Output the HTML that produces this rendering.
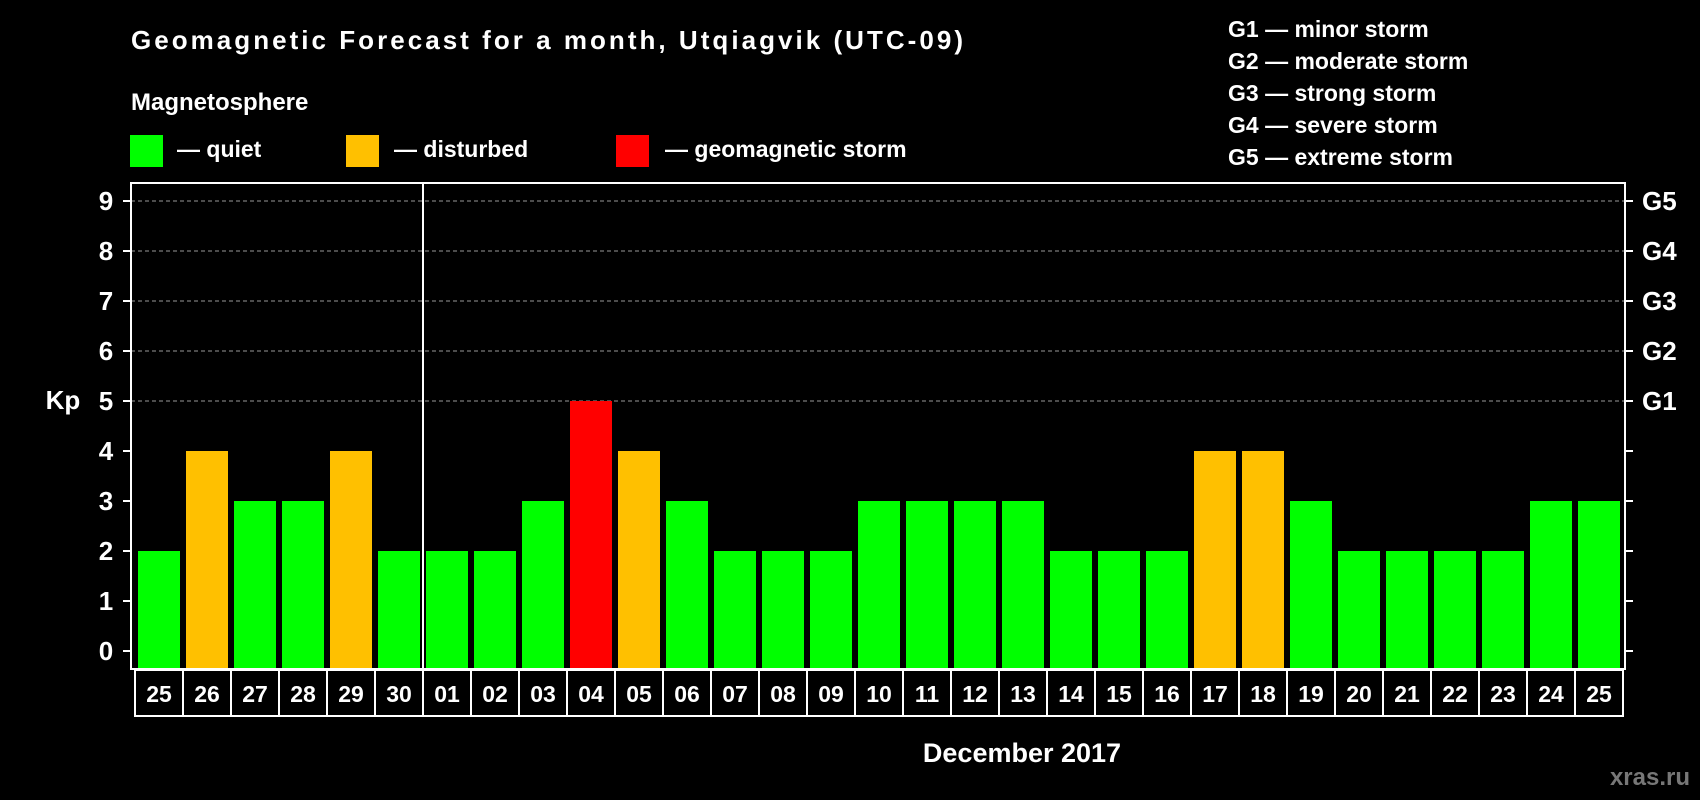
<!DOCTYPE html>
<html><head><meta charset="utf-8"><style>
html,body{margin:0;padding:0;background:#000;}
svg{display:block;font-family:"Liberation Sans",sans-serif;font-weight:bold;}
</style></head><body>
<svg id="chart" width="1700" height="800" viewBox="0 0 1700 800">
<text x="131" y="49" fill="#fff" font-size="26" textLength="832">Geomagnetic Forecast for a month, Utqiagvik (UTC-09)</text>
<text x="131" y="110" fill="#fff" font-size="24">Magnetosphere</text>
<g><rect x="130" y="135" width="33" height="32" fill="#00ff00"/><text x="177" y="157" fill="#fff" font-size="23">— quiet</text></g>
<g><rect x="346" y="135" width="33" height="32" fill="#ffc000"/><text x="394" y="157" fill="#fff" font-size="23">— disturbed</text></g>
<g><rect x="616" y="135" width="33" height="32" fill="#ff0000"/><text x="665" y="157" fill="#fff" font-size="23">— geomagnetic storm</text></g>
<g fill="#fff" font-size="23">
<text x="1228" y="37">G1 — minor storm</text>
<text x="1228" y="69">G2 — moderate storm</text>
<text x="1228" y="101">G3 — strong storm</text>
<text x="1228" y="133">G4 — severe storm</text>
<text x="1228" y="165">G5 — extreme storm</text>
</g>
<g id="grid"></g><g id="bars"></g><g id="axes"></g><g id="xlabels"></g>
<text x="63" y="409" fill="#fff" font-size="26" text-anchor="middle">Kp</text>
<text x="1022" y="762" fill="#fff" font-size="27" text-anchor="middle">December 2017</text>
<text x="1690" y="785" fill="#777" font-size="24" text-anchor="end">xras.ru</text>
</svg>
<script>
const days = ["25","26","27","28","29","30","01","02","03","04","05","06","07","08","09","10","11","12","13","14","15","16","17","18","19","20","21","22","23","24","25"];
const kpValues = [2,4,3,3,4,2,2,2,3,5,4,3,2,2,2,3,3,3,3,2,2,2,4,4,3,2,2,2,2,3,3];
const yTicks = [0,1,2,3,4,5,6,7,8,9];
const gLabels = ["","","","","","G1","G2","G3","G4","G5"];

const NS="http://www.w3.org/2000/svg";
const L=131,R=1625,T=183,B=669,Y0=651,UNIT=50,X0=138,STEP=48,BW=42;
function yS(v){return Y0-v*UNIT;}
function xS(i){return X0+i*STEP;}
function mk(tag,attrs,parent){const e=document.createElementNS(NS,tag);for(const k in attrs)e.setAttribute(k,attrs[k]);parent.appendChild(e);return e;}
const grid=document.getElementById('grid'),bars=document.getElementById('bars'),axes=document.getElementById('axes'),xl=document.getElementById('xlabels');
yTicks.forEach((v,i)=>{
  const y=yS(v);
  if(v>=5){const g=mk('line',{x1:L,x2:R,y1:y,y2:y,stroke:'#999','stroke-width':1,'stroke-dasharray':'4,3'},grid);
    
    }
  const t1=mk('line',{x1:L-8,x2:L,y1:y,y2:y,stroke:'#fff','stroke-width':2},axes);
  
  
  const t2=mk('line',{x1:R,x2:R+8,y1:y,y2:y,stroke:'#fff','stroke-width':2},axes);
  
  
  const lab=mk('text',{x:106,y:y+9,fill:'#fff','font-size':26,'text-anchor':'middle'},axes);
  lab.textContent=v;
  
  
  if(gLabels[i]){const gl=mk('text',{x:1642,y:y+9,fill:'#fff','font-size':26},axes);
    gl.textContent=gLabels[i];
    
    }
});
kpValues.forEach((v,i)=>{
  const c=v>=5?'#ff0000':(v>=4?'#ffc000':'#00ff00');
  const r=mk('rect',{x:xS(i),y:yS(v),width:BW,height:B-1-yS(v),fill:c},bars);
  
  
  const cx=135+i*STEP;
  const cell=mk('rect',{x:cx,y:670,width:STEP,height:46,fill:'#000',stroke:'#fff','stroke-width':2},xl);
  
  
  const t=mk('text',{x:cx+STEP/2,y:702,fill:'#fff','font-size':23,'text-anchor':'middle'},xl);
  t.textContent=days[i];
  
  
});
const fr=mk('rect',{x:L,y:T,width:R-L,height:B-T,fill:'none',stroke:'#fff','stroke-width':2},axes);


const dv=mk('line',{x1:(xS(5)+BW+xS(6))/2,x2:(xS(5)+BW+xS(6))/2,y1:T,y2:B,stroke:'#fff','stroke-width':2},axes);


</script>
</body></html>
